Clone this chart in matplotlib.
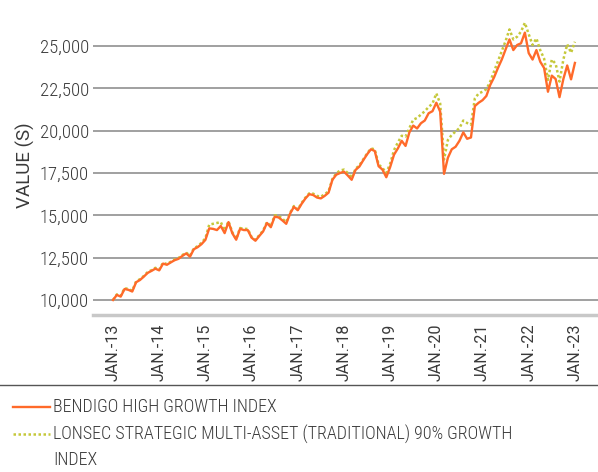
import numpy as np
import matplotlib
matplotlib.use("Agg")
import matplotlib.pyplot as plt
from matplotlib.lines import Line2D

plt.rcParams['font.family'] = ['Roboto Condensed', 'Barlow Semi Condensed',
                               'Liberation Sans Narrow', 'DejaVu Sans']
plt.rcParams['font.weight'] = 'light'
wide = ['Roboto', 'DejaVu Sans']

# monthly index values, Jan 2013 .. Jan 2023
bendigo = [
    10000, 10300, 10200, 10650, 10600, 10500, 11050, 11180, 11380, 11600, 11720, 11850,
    11750, 12150, 12080, 12220, 12350, 12430, 12600, 12750, 12560, 13000, 13120, 13300,
    13550, 14230, 14200, 14130, 14370, 13950, 14600, 13940, 13560, 14200, 14130, 14130,
    13680, 13500, 13780, 14050, 14550, 14300, 14920, 14880, 14700, 14500, 15100, 15500,
    15300, 15680, 16000, 16250, 16200, 16050, 16000, 16150, 16340, 17100, 17400, 17500,
    17580, 17350, 17100, 17680, 17880, 18250, 18600, 18900, 18800, 17900, 17700, 17250,
    17850, 18580, 18950, 19400, 19100, 19900, 20300, 20130, 20440, 20600, 21030, 21150,
    21650, 21120, 17450, 18400, 18900, 19050, 19400, 19900, 19520, 19600, 21450, 21650,
    21800, 22050, 22700, 23150, 23700, 24200, 24800, 25390, 24760, 25060, 25160, 25790,
    24580, 24200, 24760, 24070, 23700, 22300, 23250, 23050, 21980, 23050, 23850, 23030, 24000,
]
lonsec = [
    10000, 10330, 10250, 10700, 10650, 10550, 11100, 11230, 11420, 11650, 11760, 11900,
    11800, 12200, 12120, 12260, 12400, 12480, 12650, 12800, 12620, 13050, 13180, 13380,
    13650, 14450, 14500, 14550, 14600, 14100, 14650, 14000, 13600, 14250, 14200, 14200,
    13720, 13550, 13830, 14100, 14600, 14350, 15000, 14980, 14800, 14600, 15150, 15550,
    15350, 15730, 16050, 16300, 16280, 16150, 16100, 16250, 16420, 17150, 17480, 17650,
    17700, 17500, 17200, 17750, 17950, 18300, 18650, 18950, 18900, 18000, 17800, 17500,
    18050, 18850, 19300, 19700, 19650, 20150, 20650, 20750, 20950, 21150, 21400, 21600,
    22200, 21600, 18300, 19450, 19750, 19950, 20150, 20600, 20450, 20350, 21900, 22200,
    22300, 22450, 22900, 23500, 24100, 24700, 25300, 25980, 25390, 25550, 25850, 26370,
    25700, 25060, 25450, 24750, 24250, 23000, 24200, 23950, 22900, 24200, 25100, 24600, 25250,
]
years = ['13', '14', '15', '16', '17', '18', '19', '20', '21', '22', '23']
yticks = [10000, 12500, 15000, 17500, 20000, 22500, 25000]

orange = '#FF6A2A'
green = '#C5C83A'
txt = '#3a3a3a'

months = np.arange(len(bendigo))

fig = plt.figure(figsize=(5.98, 4.72), dpi=100)
ax = fig.add_axes([93 / 598, 1 - 315 / 472, 1 - 93 / 598, 300 / 472])

ax.plot(months, lonsec, color=green, lw=1.8, ls=(0, (1, 1)), zorder=3)
ax.plot(months, bendigo, color=orange, lw=1.7, zorder=4)

ax.set_xlim(-5.2, 126)
ax.set_ylim(9114, 26831)
ax.set_yticks(yticks)
ax.set_yticklabels([f'{v:,}' for v in yticks], fontsize=13.5)
ax.set_xticks(np.arange(0, 121, 12))
ax.set_xticklabels([f'JAN.-{y}' for y in years], rotation=90, family=wide,
                   fontsize=11.5, fontweight='normal')
ax.tick_params(axis='both', length=0, labelcolor=txt)
ax.tick_params(axis='y', pad=3)
ax.tick_params(axis='x', pad=6)
ax.grid(axis='y', color='#a0a0a0', lw=1.4)
ax.set_axisbelow(True)
for s in ['top', 'right', 'left']:
    ax.spines[s].set_visible(False)
ax.spines['bottom'].set_color('#c8c8c8')
ax.spines['bottom'].set_linewidth(2.5)
ax.set_ylabel('VALUE (S)', fontsize=13.5, color=txt, labelpad=3, family=wide)

# separator and legend
fig.add_artist(Line2D([0, 1], [1 - 385 / 472] * 2, transform=fig.transFigure,
                      color='#555555', lw=1))
W, H = 598, 472
fig.add_artist(Line2D([13 / W, 50 / W], [1 - 407 / H] * 2, transform=fig.transFigure,
                      color=orange, lw=1.7))
fig.text(53 / W, 1 - 407 / H, 'BENDIGO HIGH GROWTH INDEX', fontsize=13, color=txt,
         va='center')
fig.add_artist(Line2D([13 / W, 50 / W], [1 - 434 / H] * 2, transform=fig.transFigure,
                      color=green, lw=1.8, ls=(0, (1, 1))))
fig.text(53 / W, 1 - 434 / H, 'LONSEC STRATEGIC MULTI-ASSET (TRADITIONAL) 90% GROWTH',
         fontsize=13, color=txt, va='center')
fig.text(53 / W, 1 - 460 / H, 'INDEX', fontsize=13, color=txt, va='center')

fig.savefig('out.png', dpi=100)
